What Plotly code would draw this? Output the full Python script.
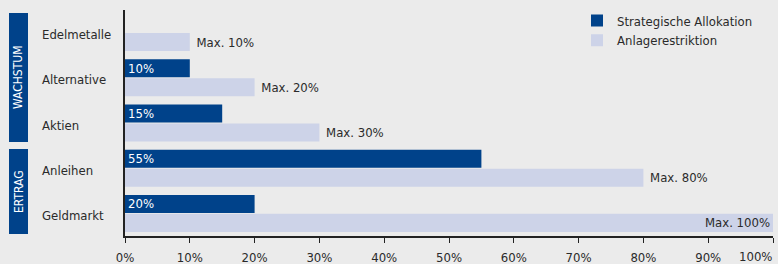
import plotly.graph_objects as go

categories = ["Edelmetalle", "Alternative", "Aktien", "Anleihen", "Geldmarkt"]
strategic = [0, 10, 15, 55, 20]
restriction = [10, 20, 30, 80, 100]
groups = [("WACHSTUM", ["Edelmetalle", "Alternative", "Aktien"]),
          ("ERTRAG", ["Anleihen", "Geldmarkt"])]
x_ticks = [0, 10, 20, 30, 40, 50, 60, 70, 80, 90, 100]

DARK = "#00428A"
LIGHT = "#CDD3E8"
BG = "#EBEBEB"
FONT = "DejaVu Sans Condensed, Liberation Sans Narrow, sans-serif"
FS = 13

fig = go.Figure()
fig.add_trace(go.Bar(
    y=categories, x=strategic, orientation="h", name="Strategische Allokation",
    marker=dict(color=DARK, line=dict(width=0)),
    text=[f"{v}%" if v > 0 else "" for v in strategic],
    textposition="inside", insidetextanchor="start",
    textfont=dict(color="white", size=FS, family=FONT), textangle=0,
    cliponaxis=False, hoverinfo="skip",
))
fig.add_trace(go.Bar(
    y=categories, x=restriction, orientation="h", name="Anlagerestriktion",
    marker=dict(color=LIGHT, line=dict(width=0)),
    text=[("\u00a0Max. %d%%" % v) if v < 100 else ("Max. %d%%" % v) for v in restriction],
    textposition=["outside" if v < 100 else "inside" for v in restriction],
    insidetextanchor="end",
    textfont=dict(color="#2a2a2a", size=FS, family=FONT), textangle=0,
    cliponaxis=False, hoverinfo="skip",
))

L, R, T, B = 125, 5, 10, 28
W, H = 778, 264
pw = W - L - R
ph = H - T - B

def px_x(p):
    return (p - L) / pw

def px_y(p):
    return (H - B - p) / ph

annotations = []
for c in categories:
    annotations.append(dict(x=px_x(40), xref="paper", y=c, yref="y", xanchor="left",
                            yanchor="middle", yshift=-2, text=c, showarrow=False,
                            font=dict(family=FONT, size=FS, color="#2a2a2a")))

shapes = []
boxes = [(13, 142), (149, 234)]
for (label, _), (top, bot) in zip(groups, boxes):
    shapes.append(dict(type="rect", xref="paper", yref="paper",
                       x0=px_x(9), x1=px_x(28), y0=px_y(bot), y1=px_y(top),
                       fillcolor=DARK, line=dict(width=0), layer="above"))
    annotations.append(dict(x=px_x(18.5), xref="paper", y=px_y((top + bot) / 2), yref="paper",
                            text=label, textangle=-90, showarrow=False,
                            xanchor="center", yanchor="middle",
                            font=dict(family=FONT, size=12, color="white")))

annotations.append(dict(x=100, xref="x", y=0, yref="paper", xanchor="right", yanchor="top",
                        xshift=1, yshift=-11, text="100%", showarrow=False,
                        font=dict(family=FONT, size=FS, color="#2a2a2a")))

fig.update_layout(
    width=W, height=H,
    margin=dict(l=L, r=R, t=T, b=B, pad=0, autoexpand=False),
    paper_bgcolor=BG, plot_bgcolor=BG,
    barmode="group", bargap=0.16, bargroupgap=0.05,
    font=dict(family=FONT, size=FS, color="#2a2a2a"),
    uniformtext=dict(minsize=FS, mode="show"),
    showlegend=True,
    legend=dict(x=px_x(577), y=1.02, xanchor="left", yanchor="top",
                bgcolor="rgba(0,0,0,0)", font=dict(family=FONT, size=FS, color="#2a2a2a"),
                traceorder="normal"),
    annotations=annotations, shapes=shapes,
)
fig.update_xaxes(range=[0, 100], tickvals=x_ticks,
                 ticktext=[f"{v}%" if v < 100 else "" for v in x_ticks],
                 ticks="outside", ticklen=5, tickcolor="#222", tickwidth=1,
                 ticklabelstandoff=4,
                 showline=True, linecolor="#222", linewidth=1.5, automargin=False,
                 showgrid=False, zeroline=False, fixedrange=True,
                 tickfont=dict(family=FONT, size=FS, color="#2a2a2a"))
fig.update_yaxes(categoryorder="array", categoryarray=categories, autorange="reversed",
                 showticklabels=False, showline=True, linecolor="#222", linewidth=1.5,
                 automargin=False,
                 showgrid=False, zeroline=False, ticks="", fixedrange=True)

fig.write_html("out.html", config={"displayModeBar": False},
               post_script="document.body.style.margin='0';document.body.style.background='%s';" % BG)
